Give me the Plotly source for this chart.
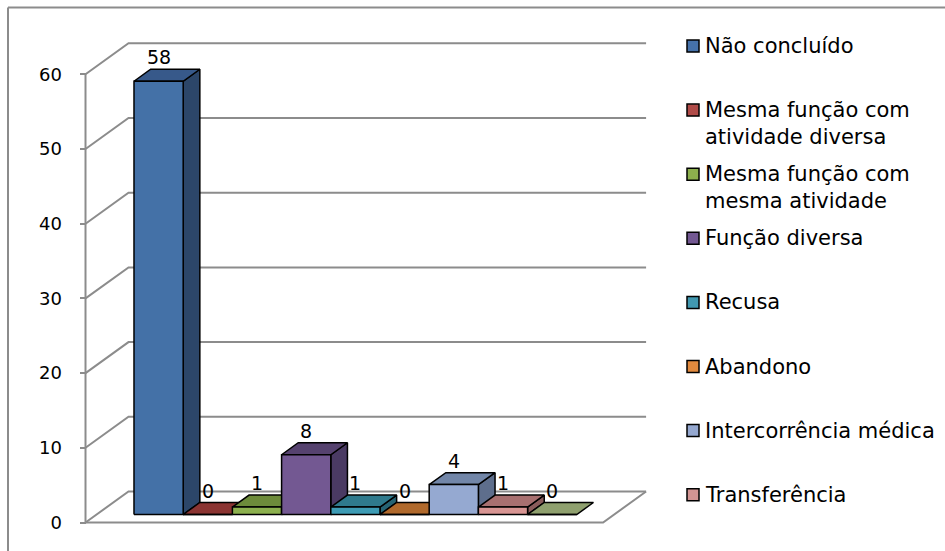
import plotly.graph_objects as go

# ---------------- data ----------------
categories = [
    "Não concluído",
    "Mesma função com<br>atividade diversa",
    "Mesma função com<br>mesma atividade",
    "Função diversa",
    "Recusa",
    "Abandono",
    "Intercorrência médica",
    "Transferência",
    "",
]
values = [58, 0, 1, 8, 1, 0, 4, 1, 0]
y_ticks = [0, 10, 20, 30, 40, 50, 60]

# ---------------- style ----------------
front_colors = ["#4471A7", "#A0413E", "#8CB04E", "#735892", "#3D9BB4",
                "#E0883C", "#95A9D1", "#D89593", "#A9BD86"]
top_colors = ["#37598A", "#8B3432", "#6D8B3B", "#56426F", "#2F7A8D",
              "#B0692C", "#7286A8", "#A87070", "#8FA06E"]
side_colors = ["#2C4669", "#6E2A28", "#57702F", "#4A3A63", "#266474",
               "#8E5524", "#5E6E8C", "#8A5C5B", "#738058"]
legend_colors = ["#4672AA", "#B04B48", "#8DB04D", "#735892", "#4198B0",
                 "#E28A3E", "#95A8D0", "#D39593"]

FW, FH = 945, 551
W = 49.2      # px per category
S = 7.47      # px per value unit
X0 = 147.5    # px of category 0 on front plane
Y0 = 522.5    # px of value 0 on front plane
DX, DY = 43.0, 31.0   # depth of floor in px
F0, F1 = 0.258, 0.645 # depth range of bars
PAD = 0.76
GRID = "#8c8c8c"
FONT = "DejaVu Sans"


def proj(u, y, f):
    return u + DX * f / W, y + DY * f / S


n = len(values)
L = -0.5 - PAD
R = n - 0.5 + PAD
top_v = max(y_ticks)

fig = go.Figure()

# walls / floor / gridlines
gx, gy = [], []
for t in y_ticks:
    for (u, y, f) in [(L, t, 0), (L, t, 1), (R, t, 1)]:
        px, py = proj(u, y, f)
        gx.append(px); gy.append(py)
    gx.append(None); gy.append(None)
for pts in [[(L, 0, 0), (L, top_v, 0)],
            [(L, 0, 0), (R, 0, 0), (R, 0, 1)]]:
    for (u, y, f) in pts:
        px, py = proj(u, y, f)
        gx.append(px); gy.append(py)
    gx.append(None); gy.append(None)
fig.add_trace(go.Scatter(x=gx, y=gy, mode="lines",
                         line=dict(color=GRID, width=2),
                         hoverinfo="skip", showlegend=False))


def poly(pts, color):
    xs, ys = [], []
    for (u, y, f) in pts:
        px, py = proj(u, y, f)
        xs.append(px); ys.append(py)
    xs.append(xs[0]); ys.append(ys[0])
    fig.add_trace(go.Scatter(x=xs, y=ys, mode="lines", fill="toself",
                             fillcolor=color,
                             line=dict(color="black", width=1.5),
                             hoverinfo="skip", showlegend=False))


for i, v in enumerate(values):
    xl, xr = i - 0.5, i + 0.5
    if v > 0:
        poly([(xr, 0, F0), (xr, 0, F1), (xr, v, F1), (xr, v, F0)], side_colors[i])
    poly([(xl, v, F0), (xr, v, F0), (xr, v, F1), (xl, v, F1)], top_colors[i])
    poly([(xl, 0, F0), (xr, 0, F0), (xr, v, F0), (xl, v, F0)], front_colors[i])

annotations = []
for i, v in enumerate(values):
    px, py = proj(i, v, F0)
    annotations.append(dict(x=px, y=py, xref="x", yref="y", text=str(v),
                            showarrow=False, yanchor="middle", yshift=24,
                            font=dict(family=FONT, size=19, color="black")))

# legend (manual, fixed row pitch like the original)
shapes = []
LEG_X = 687
LEG_Y = 46
LEG_STEP = 64.1
LEG_FS = 21
LINE_H = 27
for k, name in enumerate(categories):
    if not name:
        continue
    cy = LEG_Y + LEG_STEP * k
    shapes.append(dict(type="rect", xref="paper", yref="paper",
                       x0=LEG_X / FW, x1=(LEG_X + 12) / FW,
                       y0=1 - (cy + 6) / FH, y1=1 - (cy - 6) / FH,
                       fillcolor=legend_colors[k],
                       line=dict(color="black", width=1.5)))
    nlines = name.count("<br>") + 1
    yc = cy + (nlines - 1) * LINE_H / 2
    annotations.append(dict(x=(LEG_X + 16) / FW, y=1 - yc / FH,
                            xref="paper", yref="paper", text=name,
                            showarrow=False, xanchor="left", yanchor="middle",
                            align="left",
                            font=dict(family=FONT, size=LEG_FS, color="black")))

# outer frame (top and left visible)
shapes.append(dict(type="line", xref="paper", yref="paper",
                   x0=8 / FW, x1=1, y0=1 - 7.5 / FH, y1=1 - 7.5 / FH,
                   line=dict(color=GRID, width=2)))
shapes.append(dict(type="line", xref="paper", yref="paper",
                   x0=8 / FW, x1=8 / FW, y0=0, y1=1 - 7.5 / FH,
                   line=dict(color=GRID, width=2)))

fig.update_layout(
    width=FW, height=FH,
    margin=dict(l=0, r=0, t=0, b=0),
    paper_bgcolor="white", plot_bgcolor="white",
    showlegend=False,
    annotations=annotations,
    shapes=shapes,
    xaxis=dict(range=[-X0 / W, (FW - X0) / W], visible=False,
               domain=[0, 1]),
    yaxis=dict(range=[(Y0 - FH) / S, Y0 / S], anchor="free",
               position=(X0 + L * W) / FW,
               tickvals=y_ticks, ticks="outside", ticklen=6,
               tickwidth=2, tickcolor=GRID,
               showline=False, showgrid=False, zeroline=False,
               ticklabelstandoff=14,
               tickfont=dict(family=FONT, size=18, color="black"),
               domain=[0, 1]),
)

fig.write_html("out.html")
